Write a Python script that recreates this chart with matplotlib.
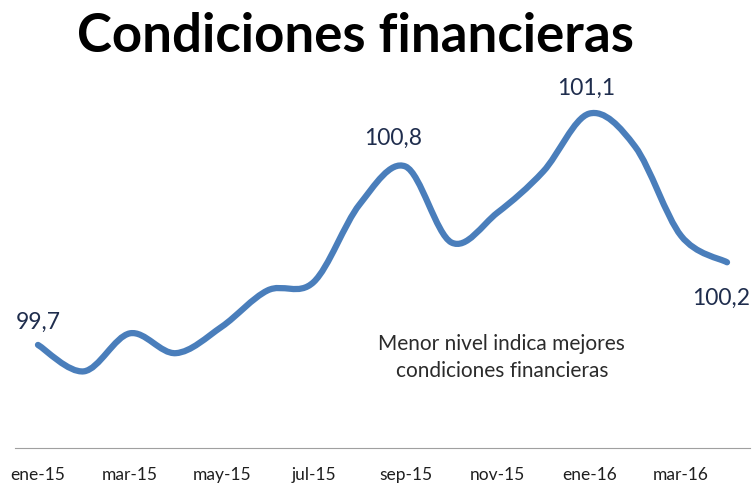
import matplotlib.pyplot as plt
import numpy as np
from matplotlib.path import Path
from matplotlib.patches import PathPatch

plt.rcParams['font.family'] = ['Lato', 'DejaVu Sans']

months = ['ene-15', 'feb-15', 'mar-15', 'abr-15', 'may-15', 'jun-15', 'jul-15', 'ago-15',
          'sep-15', 'oct-15', 'nov-15', 'dic-15', 'ene-16', 'feb-16', 'mar-16', 'abr-16']
values = [99.70, 99.54, 99.77, 99.65, 99.81, 100.03, 100.08, 100.55,
          100.78, 100.32, 100.50, 100.75, 101.10, 100.90, 100.36, 100.20]
labelled = {0: '99,7', 8: '100,8', 12: '101,1', 15: '100,2'}

x = np.arange(len(values))
y = np.array(values)

fig = plt.figure(figsize=(7.56, 4.85), dpi=100)
ax = fig.add_axes([15 / 756, 36 / 485, 735 / 756, 379 / 485])

# smoothed line like Excel: cubic bezier segments through each point
verts = [(x[0], y[0])]
codes = [Path.MOVETO]
n = len(x)
for i in range(n - 1):
    p0 = (x[max(i - 1, 0)], y[max(i - 1, 0)])
    p1 = (x[i], y[i])
    p2 = (x[i + 1], y[i + 1])
    p3 = (x[min(i + 2, n - 1)], y[min(i + 2, n - 1)])
    c1 = (p1[0] + (p2[0] - p0[0]) / 6, p1[1] + (p2[1] - p0[1]) / 6)
    c2 = (p2[0] - (p3[0] - p1[0]) / 6, p2[1] - (p3[1] - p1[1]) / 6)
    verts += [c1, c2, p2]
    codes += [Path.CURVE4] * 3
ax.add_patch(PathPatch(Path(verts, codes), fill=False, edgecolor='#4A7EBB',
                       lw=4.5, capstyle='round', joinstyle='round'))

offsets = {0: (0, 17), 8: (-9, 21), 12: (-2, 19), 15: (-4, -25)}
for i, txt in labelled.items():
    ax.annotate(txt, (x[i], y[i]), xytext=offsets[i], textcoords='offset points',
                ha='center', va='center', fontsize=16.5, color='#1F2D4D')

ax.text(10.1, 99.63, 'Menor nivel indica mejores\ncondiciones financieras',
        ha='center', va='center', fontsize=15, color='#2B2B2B', linespacing=1.4)

ax.set_xlim(-0.5, 15.5)
ax.set_ylim(99.076, 101.37)
ax.set_xticks(x[::2])
ax.set_xticklabels(months[::2])
ax.tick_params(axis='x', length=0, labelsize=12.5, colors='#1F1F1F', pad=13)
ax.set_yticks([])
for s in ['top', 'right', 'left']:
    ax.spines[s].set_visible(False)
ax.spines['bottom'].set_color('#A0A0A0')

fig.text(0.47, 0.925, 'Condiciones financieras', ha='center', va='center',
         fontsize=38, fontweight='bold', color='black')

fig.savefig('out.png', dpi=100)
